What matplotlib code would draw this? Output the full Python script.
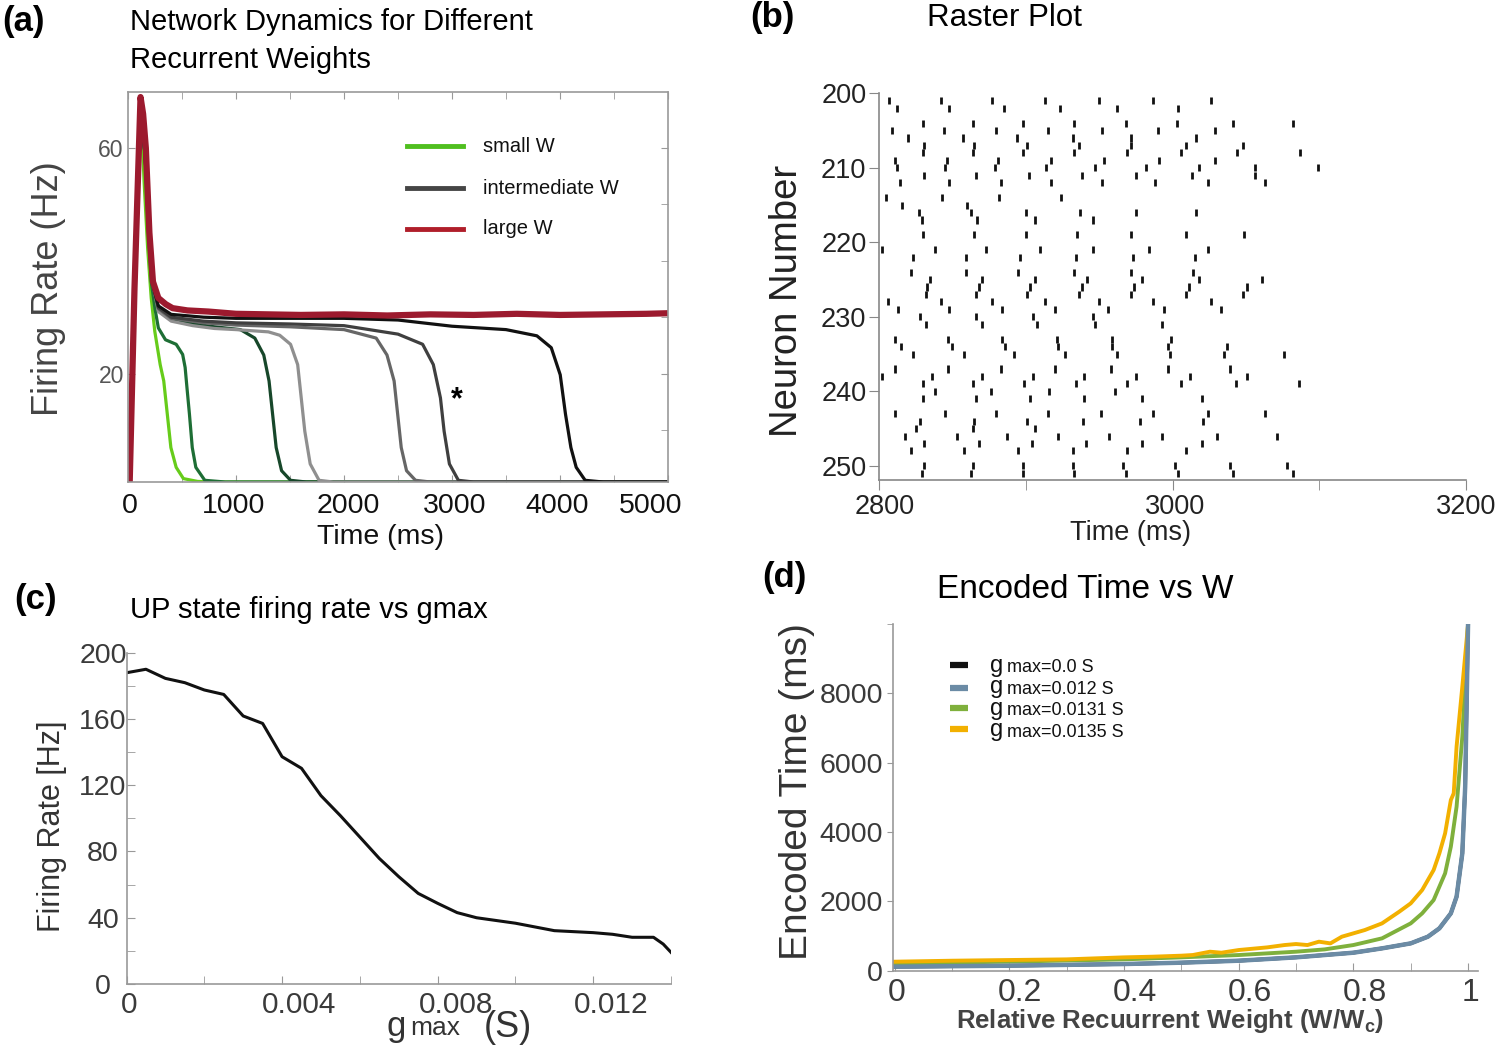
import numpy as np
import matplotlib.pyplot as plt
import matplotlib.transforms as mtransforms

W, H = 1500, 1046

SANS = ['Liberation Sans', 'DejaVu Sans']
plt.rcParams['font.family'] = SANS

# ---------------- (a) network dynamics ----------------
t_small1 = [0, 16, 116, 149, 182, 215, 248, 298, 331, 364, 397, 446, 513, 645, 800, 5000]
r_small1 = [0, 1, 69, 54, 42.2, 33.4, 27.5, 21.6, 18.7, 12.8, 6.9, 3.4, 1.4, 0.9, 0.8, 0.8]

t_small2 = [0, 16, 116, 160, 190, 215, 250, 281, 347, 446, 506, 529, 546, 569, 595, 628, 711, 900, 5000]
r_small2 = [0, 1, 69, 58, 45, 36.3, 31.5, 28.1, 26.0, 25.2, 23.4, 21.1, 17.5, 12.8, 6.9, 3.4, 1.1, 0.8, 0.8]

t_mid1 = [0, 16, 116, 160, 200, 240, 281, 400, 600, 800, 1041, 1174, 1257, 1306, 1339, 1372, 1422, 1505, 1650, 5000]
r_mid1 = [0, 1, 69, 58, 44, 35, 31.5, 29.8, 28.8, 28.3, 27.8, 26.3, 23.3, 18.7, 12.8, 6.9, 2.8, 1.1, 0.8, 0.8]

t_mid2 = [0, 16, 116, 160, 200, 240, 281, 400, 600, 800, 1000, 1300, 1405, 1505, 1571, 1604, 1637, 1687, 1769, 1900, 5000]
r_mid2 = [0, 1, 69, 58, 44, 35, 31, 29.3, 28.5, 28.0, 27.8, 27.4, 26.8, 25.2, 21.6, 15.7, 9.8, 4.0, 1.1, 0.8, 0.8]

t_mid3 = [0, 16, 116, 160, 200, 240, 281, 400, 700, 1000, 1500, 2000, 2298, 2398, 2464, 2497, 2530, 2579, 2662, 2800, 5000]
r_mid3 = [0, 1, 69, 58, 44, 35, 31.5, 29.8, 29.0, 28.6, 28.3, 27.8, 26.3, 23.3, 18.7, 12.8, 6.9, 2.8, 1.1, 0.8, 0.8]

t_mid4 = [0, 16, 116, 160, 200, 240, 281, 400, 700, 1000, 1500, 2000, 2500, 2728, 2827, 2893, 2927, 2976, 3059, 3200, 5000]
r_mid4 = [0, 1, 69, 58, 44, 35, 31.7, 30.0, 29.3, 29.0, 28.8, 28.5, 27.0, 25.2, 21.6, 15.7, 9.8, 4.0, 1.1, 0.8, 0.8]

t_mid5 = [0, 16, 116, 160, 200, 240, 281, 400, 700, 1000, 1500, 2000, 2500, 3000, 3500, 3786, 3919, 4002, 4051, 4101, 4150, 4233, 4400, 5000]
r_mid5 = [0, 1, 69, 58, 44, 35, 32, 30.5, 30.0, 29.8, 29.8, 29.8, 29.5, 28.4, 27.8, 26.7, 24.6, 19.8, 12.8, 6.9, 3.4, 1.1, 0.8, 0.8]

t_large = [0, 16, 60, 116, 140, 165, 198, 231, 281, 350, 413, 550, 744, 1000, 1300, 1600, 2000, 2400,
           2800, 3200, 3600, 4000, 4400, 4800, 5000]
r_large = [0, 1, 35, 69, 66, 60, 45, 36.3, 33.4, 32.3, 31.6, 31.2, 31.0, 30.6, 30.5, 30.4, 30.5, 30.3,
           30.5, 30.4, 30.6, 30.4, 30.5, 30.6, 30.7]

curves_a = [(t_small1, r_small1, '#66cc1a'), (t_small2, r_small2, '#1e6e35'),
            (t_mid1, r_mid1, '#17472a'), (t_mid2, r_mid2, '#8f8f8f'),
            (t_mid3, r_mid3, '#666666'), (t_mid4, r_mid4, '#3f3f3f'),
            (t_mid5, r_mid5, '#111111')]
legend_a = ['small W', 'intermediate W', 'large W']
legend_a_colors = ['#4fbf1f', '#454545', '#b01e2a']

# ---------------- (b) raster ----------------
raster_neurons = [201, 202, 204, 205, 206, 207, 208, 209, 210, 211, 212, 214, 215, 216, 217, 219,
                  221, 222, 224, 225, 226, 227, 228, 229, 230, 231, 233, 234, 235, 237, 238, 239,
                  240, 241, 243, 244, 245, 246, 247, 248, 250, 251]
raster_times = [
    [2807, 2842, 2877, 2913, 2950, 2987, 3026],
    [2812, 2848, 2885, 2923, 2962, 3004],
    [2830, 2864, 2898, 2933, 2968, 3003, 3041, 3082],
    [2809, 2844, 2880, 2915, 2952, 2990, 3029],
    [2820, 2857, 2894, 2932, 2972, 3016],
    [2831, 2865, 2901, 2936, 2972, 3009, 3048],
    [2830, 2864, 2898, 2933, 2969, 3006, 3044, 3087],
    [2811, 2846, 2881, 2917, 2953, 2991, 3029],
    [2812, 2845, 2879, 2914, 2947, 2982, 3018, 3056, 3099],
    [2831, 2866, 2902, 2938, 2975, 3013, 3056],
    [2814, 2848, 2883, 2917, 2952, 2988, 3024, 3063],
    [2805, 2843, 2882, 2924],
    [2816, 2860],
    [2827, 2863, 2900, 2937, 2975, 3016],
    [2829, 2867, 2906, 2946],
    [2830, 2865, 2900, 2935, 2972, 3009, 3049],
    [2802, 2838, 2873, 2910, 2946, 2984, 3024],
    [2823, 2859, 2896, 2934, 2973, 3015],
    [2822, 2859, 2895, 2933, 2972, 3014],
    [2835, 2870, 2906, 2942, 2979, 3018, 3061],
    [2833, 2868, 2903, 2938, 2974, 3011, 3051],
    [2832, 2866, 2901, 2936, 2972, 3009, 3048],
    [2806, 2842, 2877, 2913, 2950, 2987, 3026],
    [2813, 2848, 2884, 2920, 2956, 2994, 3033],
    [2828, 2866, 2905, 2946],
    [2832, 2870, 2908, 2947, 2993],
    [2811, 2847, 2884, 2921, 2959, 2999],
    [2815, 2850, 2886, 2922, 2959, 2997, 3037],
    [2823, 2858, 2892, 2927, 2962, 2998, 3035, 3076],
    [2811, 2847, 2883, 2920, 2958, 2997, 3039],
    [2802, 2836, 2870, 2905, 2940, 2975, 3012, 3051],
    [2830, 2864, 2899, 2934, 2969, 3006, 3043, 3086],
    [2838, 2876, 2916, 2961],
    [2830, 2866, 2903, 2940, 2979, 3020],
    [2811, 2845, 2880, 2915, 2951, 2987, 3024, 3063],
    [2828, 2865, 2901, 2939, 2978, 3021],
    [2825, 2864, 2906],
    [2818, 2853, 2887, 2922, 2957, 2993, 3030, 3071],
    [2831, 2868, 2904, 2941, 2979, 3020],
    [2822, 2858, 2895, 2932, 2969, 3009],
    [2831, 2864, 2898, 2932, 2966, 3002, 3039, 3078],
    [2829, 2863, 2898, 2933, 2968, 3004, 3041, 3082],
]

# ---------------- (c) UP state rate vs gmax ----------------
gmax_c = [0, 0.0005, 0.001, 0.0015, 0.002, 0.0025, 0.003, 0.0035, 0.004, 0.0045, 0.005, 0.0055,
          0.006, 0.0065, 0.007, 0.0075, 0.008, 0.0085, 0.009, 0.010, 0.011, 0.012, 0.0125, 0.013,
          0.01355, 0.0138, 0.014]
rate_c = [187.9, 190.0, 184.5, 181.9, 177.5, 174.8, 161.8, 157.3, 137.2, 130.2, 113.7, 101.6,
          88.7, 75.8, 64.8, 54.7, 48.7, 43.1, 40.0, 36.7, 32.2, 31.0, 30.0, 28.2,
          28.2, 24.1, 19.1]

# ---------------- (d) encoded time vs W ----------------
w_black = [0, 0.2, 0.4, 0.5, 0.6, 0.7, 0.8, 0.85, 0.9, 0.93, 0.95, 0.97, 0.98, 0.99, 0.995, 1.0]
enc_black = [115, 144, 192, 231, 288, 385, 519, 644, 788, 981, 1221, 1654, 2135, 3385, 5308, 9990]
w_blue = [0, 0.2, 0.4, 0.5, 0.6, 0.7, 0.8, 0.85, 0.9, 0.93, 0.95, 0.97, 0.98, 0.99, 0.995, 1.0]
enc_blue = [115, 144, 192, 231, 288, 385, 519, 644, 788, 981, 1221, 1654, 2135, 3385, 5308, 9990]
w_green = [0, 0.2, 0.4, 0.5, 0.6, 0.7, 0.75, 0.8, 0.85, 0.9, 0.92, 0.94, 0.96, 0.97, 0.98, 0.99, 1.0]
enc_green = [212, 260, 327, 385, 452, 548, 615, 740, 933, 1365, 1654, 2038, 2808, 3577, 4731, 6750, 9990]
w_orange = [0, 0.1, 0.2, 0.3, 0.4, 0.45, 0.5, 0.52, 0.55, 0.57, 0.6, 0.65, 0.68, 0.7, 0.72, 0.74,
            0.76, 0.78, 0.8, 0.82, 0.85, 0.88, 0.9, 0.92, 0.94, 0.95, 0.96, 0.97, 0.975, 0.98, 0.99, 1.0]
enc_orange = [260, 288, 308, 327, 385, 404, 433, 452, 548, 519, 596, 673, 740, 769, 740, 837,
              788, 981, 1077, 1173, 1365, 1702, 1942, 2327, 2904, 3385, 3962, 4923, 5115, 6462, 8192, 9990]
gmax_labels = ['0.0', '0.012', '0.0131', '0.0135']
gmax_colors = ['#111111', '#6b8ba5', '#7fb03c', '#f2b000']


def fx(x):
    return x / W


def fy(y):
    return 1 - y / H


def ax_rect(left, top, right, bottom):
    return [fx(left), fy(bottom), (right - left) / W, (bottom - top) / H]


def set_tick_font(ax, axis, size, color):
    labels = ax.get_xticklabels() if axis == 'x' else ax.get_yticklabels()
    for lab in labels:
        lab.set_fontsize(size)
        lab.set_color(color)


def shift_xlabels(ax, shifts):
    # the original figure has its tick labels nudged off the ticks
    for lab, dx in zip(ax.get_xticklabels(), shifts):
        off = mtransforms.ScaledTranslation(dx / 100, 0, fig.dpi_scale_trans)
        lab.set_transform(lab.get_transform() + off)


fig = plt.figure(figsize=(15, 10.46), dpi=100)

# ---- panel (a)
a_l, a_t, a_r, a_b = 128, 92, 668, 482
ax_a = fig.add_axes(ax_rect(a_l, a_t, a_r, a_b))
for t, r, c in curves_a:
    ax_a.plot(t, r, color=c, lw=2.3, solid_joinstyle='round')
ax_a.plot(t_large, r_large, color='#9c1a2e', lw=4.5, solid_joinstyle='round')
ax_a.set_xlim(0, 5000)
ax_a.set_ylim(0.8, 69.9)
ax_a.set_xticks(range(0, 5001, 1000))
ax_a.set_xticks(range(500, 5000, 1000), minor=True)
ax_a.set_yticks([20, 60])
ax_a.set_yticks([10, 30, 40, 50], minor=True)
ax_a.tick_params(which='both', direction='in', top=True, right=True, color='#999', length=5)
ax_a.tick_params(axis='y', which='minor', left=False)
ax_a.tick_params(axis='x', pad=8)
ax_a.tick_params(axis='y', pad=3)
set_tick_font(ax_a, 'x', 20.5, '#111')
set_tick_font(ax_a, 'y', 16.5, '#555')
shift_xlabels(ax_a, [2, -2, 4, 3, -3, -17])
for sp in ax_a.spines.values():
    sp.set_color('#999')
    sp.set_linewidth(1.2)

for i, (lab, c) in enumerate(zip(legend_a, legend_a_colors)):
    y = [146, 188, 229][i]
    yy = (a_b - y) / (a_b - a_t)
    ax_a.plot([(407 - a_l) / 540, (463 - a_l) / 540], [yy, yy], color=c, lw=3.5,
              transform=ax_a.transAxes)
    ax_a.text((483 - a_l) / 540, yy, lab, transform=ax_a.transAxes, va='center', ha='left',
              fontsize=14.5, color='#111')
ax_a.text(3046, 15.2, '*', fontsize=22, fontweight='bold', ha='center', va='center')

fig.text(fx(2), fy(22), '(a)', fontsize=25, fontweight='bold', ha='left', va='center')
fig.text(fx(130), fy(22), 'Network Dynamics for Different', fontsize=21, ha='left', va='center')
fig.text(fx(130), fy(60), 'Recurrent Weights', fontsize=21, ha='left', va='center')
fig.text(fx(48), fy(289), 'Firing Rate (Hz)', fontsize=26, rotation=90, ha='center', va='center',
         color='#444')
fig.text(fx(380), fy(537), 'Time (ms)', fontsize=20.5, ha='center', va='center', color='#111')

# ---- panel (b)
ax_b = fig.add_axes(ax_rect(879, 93.3, 1466, 480))
ax_b.eventplot(raster_times, lineoffsets=raster_neurons, linelengths=0.95, linewidths=2.0,
               colors='#111')
ax_b.set_xlim(2800, 3200)
ax_b.set_ylim(251.9, 200)
ax_b.set_xticks([2800, 3000, 3200])
ax_b.set_xticks([2900, 3100], minor=True)
ax_b.set_yticks(range(200, 251, 10))
ax_b.spines[['top', 'right']].set_visible(False)
for sp in ['left', 'bottom']:
    ax_b.spines[sp].set_color('#888')
    ax_b.spines[sp].set_linewidth(1.2)
ax_b.tick_params(which='both', direction='out', length=7, color='#888')
ax_b.tick_params(axis='y', pad=2)
ax_b.tick_params(axis='x', pad=3)
set_tick_font(ax_b, 'x', 19.5, '#222')
set_tick_font(ax_b, 'y', 19.5, '#222')
shift_xlabels(ax_b, [6, 3, 0])

fig.text(fx(750), fy(18), '(b)', fontsize=25, fontweight='bold', ha='left', va='center')
fig.text(fx(927), fy(18), 'Raster Plot', fontsize=22.5, ha='left', va='center')
fig.text(fx(787), fy(301), 'Neuron Number', fontsize=27.5, rotation=90, ha='center', va='center',
         color='#222')
fig.text(fx(1130), fy(533), 'Time (ms)', fontsize=19.5, ha='center', va='center', color='#222')

# ---- panel (c)
ax_c = fig.add_axes(ax_rect(126.5, 652.7, 671, 984))
ax_c.plot(gmax_c, rate_c, color='#111', lw=2.2)
ax_c.set_xlim(0, 0.014)
ax_c.set_ylim(0, 200)
ax_c.set_xticks([0, 0.004, 0.008, 0.012])
ax_c.set_xticklabels(['0', '0.004', '0.008', '0.012'])
ax_c.set_xticks([0.002, 0.006, 0.010, 0.014], minor=True)
ax_c.set_yticks(range(0, 201, 40))
ax_c.set_yticks(range(20, 200, 40), minor=True)
ax_c.spines[['top', 'right']].set_visible(False)
for sp in ['left', 'bottom']:
    ax_c.spines[sp].set_color('#999')
    ax_c.spines[sp].set_linewidth(1.2)
ax_c.tick_params(which='both', direction='in', length=6, color='#999')
ax_c.tick_params(axis='y', pad=17)
ax_c.tick_params(axis='x', pad=5)
set_tick_font(ax_c, 'x', 21.5, '#3a3a3a')
set_tick_font(ax_c, 'y', 20.5, '#3a3a3a')
for lab in ax_c.get_yticklabels():
    lab.set_horizontalalignment('center')
shift_xlabels(ax_c, [3, 17, 18, 18])

fig.text(fx(14), fy(600), '(c)', fontsize=25, fontweight='bold', ha='left', va='center')
fig.text(fx(130), fy(610), 'UP state firing rate vs gmax', fontsize=21, ha='left', va='center')
fig.text(fx(52), fy(826), 'Firing Rate [Hz]', fontsize=22, rotation=90, ha='center', va='center',
         color='#333')
fig.text(fx(386), fy(1036), 'g', fontsize=25, ha='left', va='baseline', color='#333')
fig.text(fx(410), fy(1035), 'max', fontsize=19, ha='left', va='baseline', color='#333')
fig.text(fx(484), fy(1037), '(S)', fontsize=26, ha='left', va='baseline', color='#333')

# ---- panel (d)
d_l, d_t, d_r, d_b = 892.8, 624, 1477.8, 970.7
ax_d = fig.add_axes(ax_rect(d_l, d_t, d_r, d_b))
ax_d.plot(w_black, enc_black, color=gmax_colors[0], lw=2.6)
ax_d.plot(w_green, enc_green, color=gmax_colors[2], lw=2.8)
ax_d.plot(w_orange, enc_orange, color=gmax_colors[3], lw=2.8)
ax_d.plot(w_blue, enc_blue, color=gmax_colors[1], lw=3.2)
ax_d.set_xlim(-0.003, 1.017)
ax_d.set_ylim(0, 10000)
ax_d.set_xticks([0, 0.2, 0.4, 0.6, 0.8, 1.0])
ax_d.set_xticklabels(['0', '0.2', '0.4', '0.6', '0.8', '1'])
ax_d.set_xticks([0.1, 0.3, 0.5, 0.7, 0.9], minor=True)
ax_d.set_yticks([0, 2000, 4000, 6000, 8000])
ax_d.set_yticks([10000], minor=True)
ax_d.spines[['top', 'right']].set_visible(False)
for sp in ['left', 'bottom']:
    ax_d.spines[sp].set_color('#999')
    ax_d.spines[sp].set_linewidth(1.2)
ax_d.tick_params(axis='x', which='both', direction='in', length=6, color='#999', pad=5)
ax_d.tick_params(axis='y', which='both', direction='out', length=4, color='#999', pad=3)
set_tick_font(ax_d, 'x', 23, '#3a3a3a')
set_tick_font(ax_d, 'y', 20.5, '#3a3a3a')
shift_xlabels(ax_d, [2, 11, 11, 11, 12, 2])

# legend of (d): short thick bars, a large "g" column and a smaller "max=..." column
xw = d_r - d_l
for i, c in enumerate(gmax_colors):
    y = [665, 688, 708, 729][i]
    yy = (d_b - y) / (d_b - d_t)
    ax_d.plot([(950 - d_l) / xw, (968 - d_l) / xw], [yy, yy], color=c, lw=4.5,
              transform=ax_d.transAxes, solid_capstyle='butt')
fig.text(fx(990), fy(655), '\n'.join(['g'] * len(gmax_labels)), fontsize=17, ha='left', va='top',
         linespacing=0.97, color='#111')
fig.text(fx(1007), fy(659), '\n'.join('max=' + lab + ' S' for lab in gmax_labels), fontsize=13,
         ha='left', va='top', linespacing=1.36, color='#111')

fig.text(fx(762), fy(578), '(d)', fontsize=25, fontweight='bold', ha='left', va='center')
fig.text(fx(937), fy(590), 'Encoded Time vs W', fontsize=24, ha='left', va='center')
fig.text(fx(797), fy(792), 'Encoded Time (ms)', fontsize=28, rotation=90, ha='center',
         va='center', color='#333')
fig.text(fx(1170), fy(1021), r'Relative Recuurrent Weight (W/W$_\mathregular{c}$)', fontsize=18.5,
         fontweight='bold', ha='center', va='center', color='#444')

fig.savefig('out.png', dpi=100)
